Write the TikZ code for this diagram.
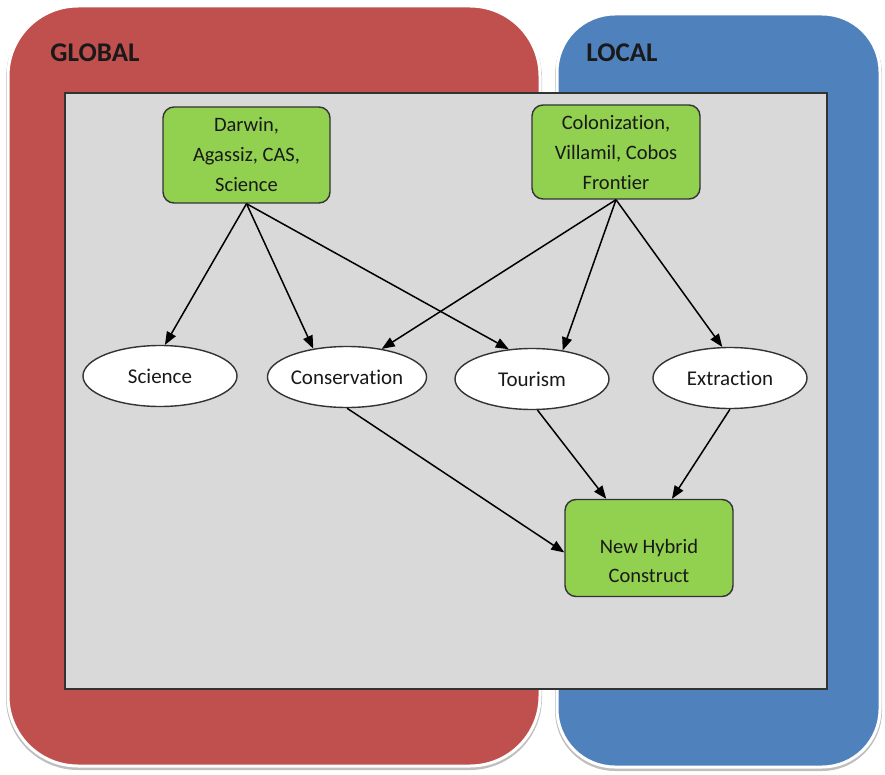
\documentclass[tikz,border=0pt]{standalone}
\usepackage{fontspec}
\setmainfont{Carlito}[Ligatures=NoCommon]
\usetikzlibrary{arrows.meta,shapes.geometric}
\definecolor{gred}{HTML}{C0504D}
\definecolor{lblue}{HTML}{4F81BD}
\definecolor{lgreen}{HTML}{92D050}
\definecolor{panel}{HTML}{D9D9D9}
\definecolor{edge}{HTML}{333333}
\tikzset{
  zone/.style={draw=white,line width=3pt},
  zoneshadow/.style={draw=black!25,line width=4pt},
  greenbox/.style={draw=edge,line width=1.4pt,fill=lgreen,rounded corners=11pt,align=center,font=\fontsize{20.5}{30}\selectfont,inner sep=0pt,text=black!90},
  oval/.style={ellipse,draw=edge,line width=1.4pt,fill=white,minimum width=154pt,minimum height=61pt,inner sep=0pt,font=\fontsize{21}{24}\selectfont,text=black!90},
  conn/.style={draw=black,line width=1.5pt,-{Triangle[length=13pt,width=10pt]}},
  title/.style={font=\fontsize{27}{30}\selectfont\bfseries,text=black!90}
}
\begin{document}
\begin{tikzpicture}[x=1pt,y=-1pt]
\useasboundingbox (0,0) rectangle (885,775);
% zones
\draw[zoneshadow,rounded corners=70pt] (8,8) rectangle (540,768);
\filldraw[zone,fill=gred,rounded corners=70pt] (8,6) rectangle (540,766);
\draw[zoneshadow,rounded corners=58pt] (557,16) rectangle (880,769);
\filldraw[zone,fill=lblue,rounded corners=58pt] (557,14) rectangle (880,767);
\node[title] (glob) at (95,53) {GLOBAL};
\node[title] (loc) at (622,53) {LOCAL};
% panel
\filldraw[draw=edge,line width=1.8pt,fill=panel] (65,93) rectangle (827,689);
% top boxes
\node[greenbox,minimum width=167pt,minimum height=96pt] (dar) at (246.5,155) {Darwin,\\Agassiz, CAS,\\Science};
\node[greenbox,minimum width=168pt,minimum height=94pt] (col) at (616,152) {Colonization,\\Villamil, Cobos\\Frontier};
% ovals
\node[oval] (sci) at (160,376) {Science};
\node[oval] (cons) at (347,377) {Conservation};
\node[oval] (tour) at (532,379) {Tourism};
\node[oval] (ext) at (730,378) {Extraction};
% result
\node[greenbox,minimum width=168pt,minimum height=97pt] (nhc) at (649,548) {};
\node[align=center,font=\fontsize{20.5}{29}\selectfont,inner sep=0pt,text=black!90] (nhct) at (649,561) {New Hybrid\\Construct};
% connectors
\draw[conn] (dar.south) -- (sci.81);
\draw[conn] (dar.south) -- (cons.140);
\draw[conn] (dar.south) -- (tour.128);
\draw[conn] (col.south) -- (cons.39);
\draw[conn] (col.south) -- (tour.43);
\draw[conn] (col.south) -- (ext.104);
\draw[conn] (cons.south) -- (nhc.183);
\draw[conn] (tour.-80) -- (nhc.131);
\draw[conn] (ext.south) -- (nhc.65);
\end{tikzpicture}
\end{document}
